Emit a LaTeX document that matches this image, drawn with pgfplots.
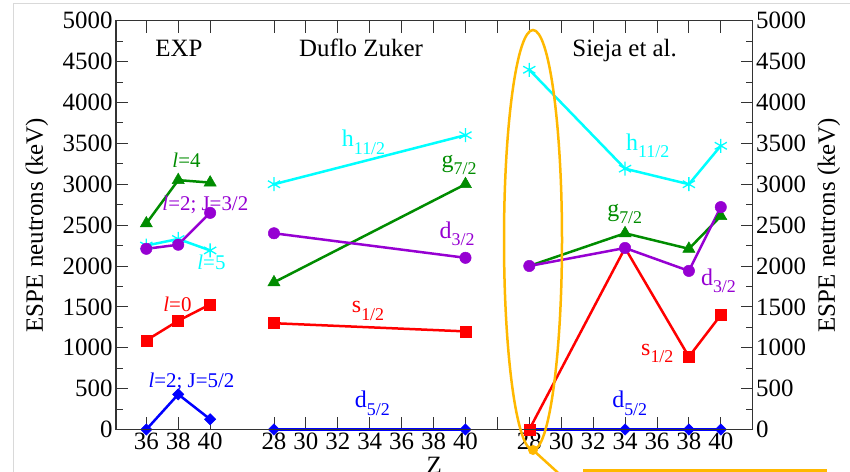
\documentclass[border=0pt]{standalone}
\usepackage{fontspec}
\IfFontExistsTF{Liberation Serif}{\setmainfont{Liberation Serif}}{\setmainfont{DejaVu Serif}}
\usepackage{pgfplots}
\pgfplotsset{compat=1.18}
\definecolor{cy}{RGB}{0,255,255}
\definecolor{gr}{RGB}{0,140,0}
\definecolor{pu}{RGB}{150,0,210}
\definecolor{rd}{RGB}{255,0,0}
\definecolor{bl}{RGB}{0,0,255}
\definecolor{orng}{RGB}{255,184,0}
\newcommand{\sub}[1]{\raisebox{-0.32em}{\fontsize{18}{20}\selectfont #1}}
\newcommand{\lab}{\rmfamily\fontsize{24}{28}\selectfont}
\newcommand{\llab}{\rmfamily\fontsize{21}{24}\selectfont}
\newcommand{\bigf}{\rmfamily\fontsize{25}{30}\selectfont}
\begin{document}
\begin{tikzpicture}
\pgfplotsset{
  base/.style={
    scale only axis, width=636.7bp, height=408.8bp,
    at={(0bp,0bp)}, anchor=south west,
    xmin=18.1, xmax=58, ymin=0, ymax=5000,
    ytick={0,500,...,5000}, minor y tick num=1,
    major tick length=12bp, minor tick length=7bp,
    tick style={line width=0.8bp, black!80},
    axis line style={line width=1bp, black!80},
    /pgf/number format/assume math mode=true,
    /pgf/number format/1000 sep={},
    tick label style={font=\bigf},
    label style={font=\bigf},
    clip=false,
  },
  sr/.style={rd, line width=2.5bp, mark=square*, mark size=5.5bp, mark options={line width=0.5bp}},
  sb/.style={bl, line width=2.5bp, mark=square*, mark size=4bp, mark options={rotate=45, line width=0.5bp}},
  sc/.style={cy, line width=2.5bp, mark=asterisk, mark size=7bp, mark options={line width=1.3bp}},
  sg/.style={gr, line width=2.5bp, mark=triangle*, mark size=7bp, mark options={line width=0.5bp}},
  sp/.style={pu, line width=2.5bp, mark=*, mark size=5.7bp, mark options={line width=0.5bp}},
}
\begin{axis}[base,
  xtick={20,22,24,28,30,32,34,36,38,40,42,44,46,48,50,52,54,56},
  xticklabels={36,38,40,28,30,32,34,36,38,40,{},28,30,32,34,36,38,40},
  xlabel={Z}, xlabel style={at={(axis description cs:0.5,0)}, anchor=north, yshift=-24bp},
  ylabel={ESPE neutrons (keV)}, ylabel style={at={(axis description cs:-0.1241,0.5)}, anchor=center},
]
% EXP
\addplot[sb] coordinates {(20,0) (22,430) (24,125)};
\addplot[sg] coordinates {(20,2520) (22,3050) (24,3020)};
\addplot[sc] coordinates {(20,2250) (22,2330) (24,2190)};
\addplot[sr] coordinates {(20,1090) (22,1330) (24,1530)};
\addplot[sp] coordinates {(20,2210) (22,2260) (24,2650)};
% Duflo Zuker
\addplot[sb] coordinates {(28,0) (40,0)};
\addplot[sg] coordinates {(28,1800) (40,3000)};
\addplot[sc] coordinates {(28,3000) (40,3600)};
\addplot[sr] coordinates {(28,1300) (40,1200)};
\addplot[sp] coordinates {(28,2400) (40,2100)};
% Sieja et al.
\addplot[sb] coordinates {(44,0) (50,0) (54,0) (56,0)};
\addplot[sg, mark indices={2,3,4}] coordinates {(44,2000) (50,2400) (54,2210) (56,2610)};
\addplot[sc] coordinates {(44,4400) (50,3190) (54,3000) (56,3470)};
\addplot[sr, mark indices={1,3,4}] coordinates {(44,0) (50,2220) (54,890) (56,1400)};
\addplot[sp] coordinates {(44,2000) (50,2220) (54,1940) (56,2720)};
% titles
\node[anchor=base west, inner sep=0pt, font=\bigf] at (axis cs:20.56,4568) {EXP};
\node[anchor=base west, inner sep=0pt, font=\bigf] at (axis cs:29.56,4568) {Duflo Zuker};
\node[anchor=base west, inner sep=0pt, font=\bigf] at (axis cs:46.69,4568) {Sieja et al.};
% EXP labels
\node[anchor=base west, inner sep=0pt, font=\llab, text=gr] at (axis cs:21.625,3210) {\textit{l}=4};
\node[anchor=base west, inner sep=0pt, font=\llab, text=pu] at (axis cs:21,2684) {\textit{l}=2; J=3/2};
\node[anchor=base west, inner sep=0pt, font=\llab, text=cy] at (axis cs:23.19,1951) {\textit{l}=5};
\node[anchor=base west, inner sep=0pt, font=\llab, text=rd] at (axis cs:21.06,1449) {\textit{l}=0};
\node[anchor=base west, inner sep=0pt, font=\llab, text=bl] at (axis cs:20.125,508) {\textit{l}=2; J=5/2};
% DZ labels
\node[anchor=base west, inner sep=0pt, font=\lab, text=cy] at (axis cs:32.25,3459) {h\sub{11/2}};
\node[anchor=base west, inner sep=0pt, font=\lab, text=gr] at (axis cs:38.5,3210) {g\sub{7/2}};
\node[anchor=base west, inner sep=0pt, font=\lab, text=pu] at (axis cs:38.375,2342) {d\sub{3/2}};
\node[anchor=base west, inner sep=0pt, font=\lab, text=rd] at (axis cs:32.875,1425) {s\sub{1/2}};
\node[anchor=base west, inner sep=0pt, font=\lab, text=bl] at (axis cs:33.06,263) {d\sub{5/2}};
% Sieja labels
\node[anchor=base west, inner sep=0pt, font=\lab, text=cy] at (axis cs:50.06,3418) {h\sub{11/2}};
\node[anchor=base west, inner sep=0pt, font=\lab, text=gr] at (axis cs:48.875,2611) {g\sub{7/2}};
\node[anchor=base west, inner sep=0pt, font=\lab, text=pu] at (axis cs:54.75,1767) {d\sub{3/2}};
\node[anchor=base west, inner sep=0pt, font=\lab, text=rd] at (axis cs:51,911) {s\sub{1/2}};
\node[anchor=base west, inner sep=0pt, font=\lab, text=bl] at (axis cs:49.19,263) {d\sub{5/2}};
\end{axis}
\begin{axis}[base,
  xtick=\empty,
  yticklabel pos=right,
  ylabel={ESPE neutrons (keV)}, ylabel style={at={(axis description cs:1.1198,0.5)}, anchor=center},
]
\end{axis}
% annotation overlay
\draw[orng, line width=2.5bp] (417bp,189.5bp) ellipse [x radius=29bp, y radius=210bp];
\fill[orng] (417bp,-20.5bp) circle (5bp);
\draw[orng, line width=2.5bp] (417bp,-20.5bp) -- (445bp,-46bp);
\draw[orng, line width=3bp] (467bp,-41.2bp) -- (711bp,-41.2bp);
\draw[black!15, line width=1bp] (-102bp,-42.5bp) -- (-102bp,425.5bp) -- (734bp,425.5bp);
\pgfresetboundingbox
\useasboundingbox (-116bp,-42.5bp) rectangle (734bp,429.5bp);
\end{tikzpicture}
\end{document}
